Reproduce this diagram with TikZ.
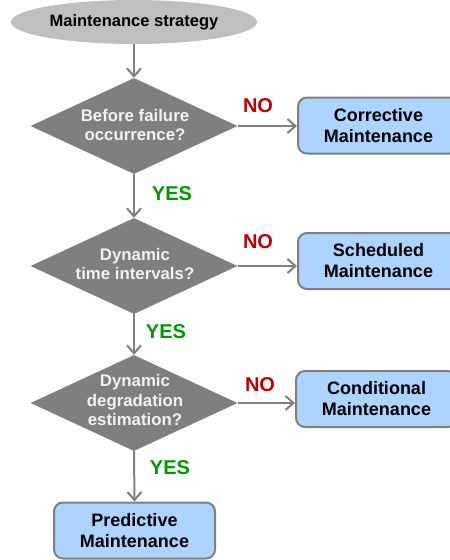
\documentclass[tikz,border=0pt]{standalone}
\usepackage{fontspec}
\setmainfont{Liberation Sans}
\usetikzlibrary{shapes.geometric,arrows.meta}
\definecolor{dgray}{HTML}{7F7F7F}
\definecolor{egray}{HTML}{BFBFBF}
\definecolor{lblue}{HTML}{ADD3FF}
\definecolor{bordergray}{HTML}{808080}
\definecolor{nored}{HTML}{C00000}
\definecolor{yesgreen}{HTML}{009A00}
\definecolor{dtextc}{HTML}{F2F2F2}
\tikzset{
  startnode/.style={ellipse, fill=egray, draw=none, minimum width=246pt, minimum height=44pt, inner sep=0pt,
    font=\bfseries\fontsize{16.5}{18}\selectfont, text=black},
  decision/.style={diamond, fill=dgray, draw=none, minimum width=207pt, minimum height=96pt, inner sep=0pt},
  dtext/.style={align=center, text=dtextc, font=\bfseries\fontsize{16.8}{19.8}\selectfont, inner sep=0pt},
  outbox/.style={rectangle, rounded corners=9pt, fill=lblue, draw=bordergray, line width=2pt,
    minimum width=161pt, minimum height=56pt, align=center, inner sep=0pt,
    font=\bfseries\fontsize{18}{21}\selectfont, text=black},
  conn/.style={draw=bordergray, line width=2pt, -{Straight Barb[length=8pt,width=14pt,line width=2pt]}},
  nolabel/.style={text=nored, font=\bfseries\fontsize{20}{22}\selectfont, inner sep=0pt},
  yeslabel/.style={text=yesgreen, font=\bfseries\fontsize{20}{22}\selectfont, inner sep=0pt}
}
\begin{document}
\begin{tikzpicture}[x=1pt,y=-1pt]
\useasboundingbox (0,0) rectangle (450,560);
\clip (0,0) rectangle (450,560);
\node[startnode] (s) at (134,22) {Maintenance strategy};
\node[decision] (d1) at (134,126) {};
\node[dtext] (t1) at (135,125) {Before failure\\occurrence?};
\node[decision] (d2) at (134,266) {};
\node[dtext] (t2) at (135,264) {Dynamic\\time intervals?};
\node[decision] (d3) at (134,403) {};
\node[dtext] (t3) at (135,400) {Dynamic\\degradation\\estimation?};
\node[outbox, anchor=west] (b1) at (297,125.5) {Corrective\\Maintenance};
\node[outbox, anchor=west] (b2) at (297,261) {Scheduled\\Maintenance};
\node[outbox, anchor=west] (b3) at (295,399) {Conditional\\Maintenance};
\node[outbox] (b4) at (134.5,530.5) {Predictive\\Maintenance};
\draw[conn] (s.south) -- (d1.north);
\draw[conn] (d1.east) -- (d1.east -| b1.west);
\draw[conn] (d1.south) -- (d2.north);
\draw[conn] (d2.east) -- (d2.east -| b2.west);
\draw[conn] (d2.south) -- (d3.north);
\draw[conn] (d3.east) -- (d3.east -| b3.west);
\draw[conn] (d3.south) -- (b4.north);
\node[nolabel] (n1) at (258,106) {NO};
\node[nolabel] (n2) at (258,242) {NO};
\node[nolabel] (n3) at (260,385) {NO};
\node[yeslabel] (y1) at (172,194) {YES};
\node[yeslabel] (y2) at (166,332) {YES};
\node[yeslabel] (y3) at (170,468) {YES};
\end{tikzpicture}
\end{document}
